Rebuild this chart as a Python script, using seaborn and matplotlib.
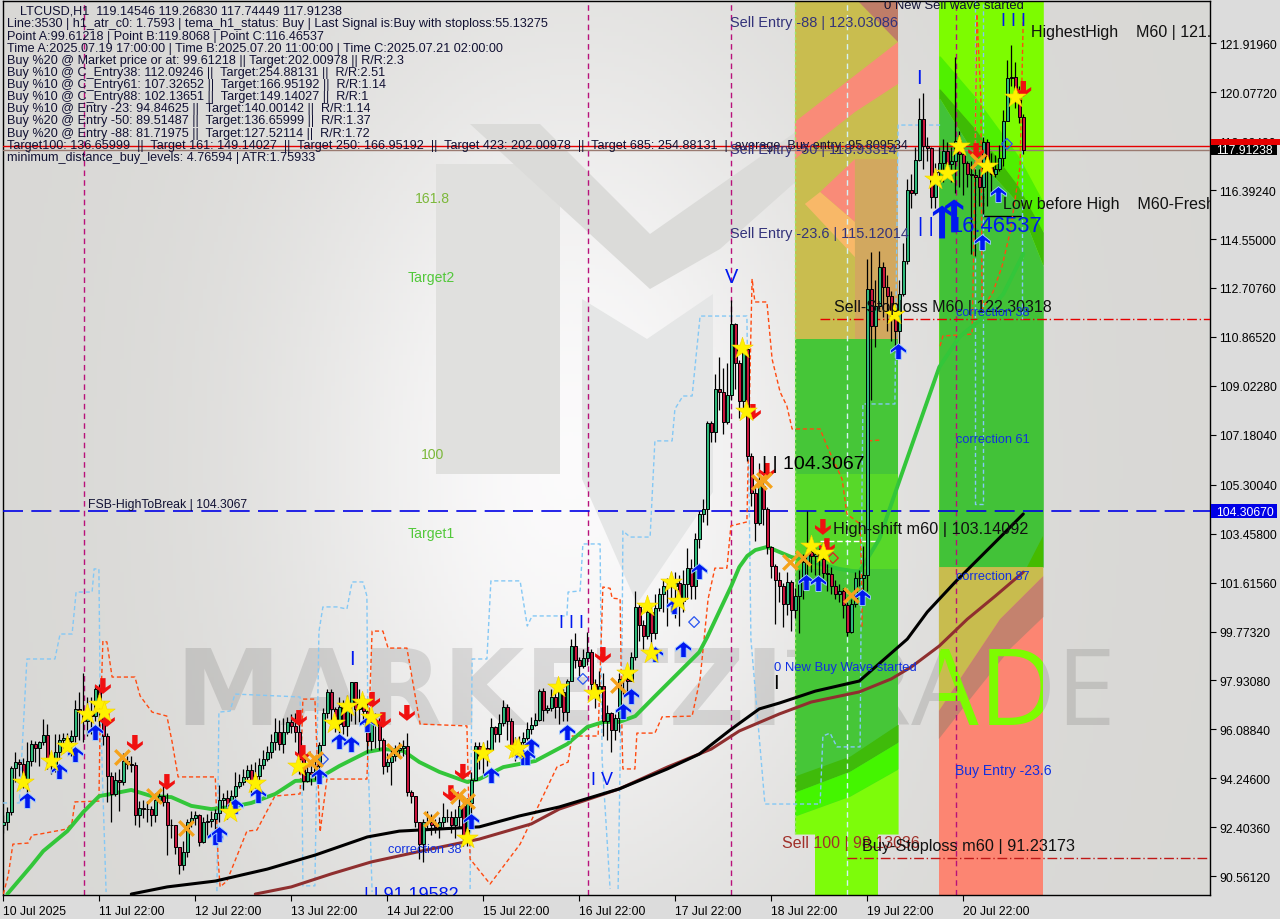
import numpy as np
import matplotlib
matplotlib.use("Agg")
import matplotlib.pyplot as plt
from matplotlib.path import Path
from matplotlib.patches import Polygon, Rectangle
from matplotlib.transforms import Affine2D, blended_transform_factory
import seaborn as sns

close = [
 92.6,92.97,94.64,94.85,94.77,94.2,94.9,95.54,95.4,95.6,
 95.88,94.98,94.7,95.25,95.7,95.75,95.65,95.85,96.86,96.76,
 96.4,96.75,96.6,97.6,96.9,95.85,94.35,93.67,94.2,94.1,
 94.9,94.8,94.75,92.88,93.12,93.1,93.1,92.88,93.45,93.6,
 93.35,92.5,92.5,91.67,90.98,91.46,92.6,92.75,92.85,91.85,
 92.6,92.65,92.72,92.95,93.45,93.5,93.2,93.6,93.95,94.1,
 94.3,94.55,94.2,94.35,94.75,94.98,95.25,95.6,96.0,95.55,
 96.0,96.35,96.2,95.98,94.98,94.15,94.5,94.4,94.7,95.5,
 96.7,97.49,96.86,96.3,96.95,96.23,97.1,97.87,96.86,97.1,
 96.8,95.65,96.35,96.3,95.7,94.72,94.88,95.1,95.3,95.4,
 95.45,93.72,93.57,92.6,91.77,92.6,92.6,92.5,92.4,92.6,
 92.8,92.8,92.5,92.78,93.2,92.0,93.3,94.2,95.45,95.1,
 95.4,95.3,96.17,95.92,96.32,96.92,96.4,95.5,95.2,95.6,
 95.75,96.1,96.27,96.45,97.52,96.82,96.9,97.3,96.95,97.5,
 96.76,97.9,99.22,98.72,98.47,98.78,99.0,97.8,97.5,97.72,
 96.42,96.71,96.05,96.5,97.99,98.0,97.9,98.8,100.69,100.02,
 99.6,100.5,99.7,100.65,101.2,101.47,101.5,101.5,101.6,100.94,
 101.57,102.15,101.5,103.25,104.2,104.4,107.62,107.27,108.9,108.78,
 107.67,108.68,111.35,109.87,108.46,110.4,106.4,105.0,103.85,105.25,
 104.4,102.94,102.25,101.73,101.5,100.8,101.65,100.6,101.1,101.7,
 102.4,102.75,102.6,102.7,102.5,101.97,101.95,101.5,101.2,101.3,
 100.77,99.75,100.8,101.8,101.8,101.9,112.67,111.29,112.04,113.48,
 112.73,112.42,111.55,111.1,112.48,113.74,116.41,116.28,117.52,119.07,
 118.07,117.97,116.12,117.06,117.41,117.88,117.38,117.5,118.25,117.75,
 117.4,117.0,116.95,116.9,116.5,118.2,117.25,117.0,117.2,117.6,
 119.0,120.6,120.64,119.8,119.13,117.91]
high = [
 92.85,93.15,94.7,95.23,94.98,95.0,95.6,95.7,95.66,95.67,
 96.48,96.3,95.1,95.9,95.9,95.95,95.95,96.05,97.2,97.5,
 98.2,97.3,97.3,97.75,97.8,97.0,95.95,94.5,94.5,94.6,
 95.2,95.1,95.1,94.85,93.4,93.45,93.4,93.2,93.7,93.8,
 94.0,93.7,92.7,92.5,91.3,91.9,92.7,93.0,93.0,92.9,
 92.8,92.9,93.0,93.1,94.0,93.7,93.8,93.8,94.5,94.4,
 94.6,94.75,94.8,94.85,95.0,95.3,95.45,95.9,96.5,96.45,
 96.5,96.55,96.65,96.7,96.7,95.1,94.8,94.7,95.0,95.6,
 96.9,97.6,97.6,96.95,97.3,97.2,97.4,97.87,97.87,97.6,
 97.4,97.2,96.6,96.7,96.5,95.75,95.2,95.35,95.5,95.6,
 95.7,95.95,93.8,93.6,92.6,92.7,93.0,92.9,92.7,92.8,
 93.3,93.1,93.0,93.1,93.5,93.5,93.5,94.5,95.6,95.6,
 95.6,95.7,96.5,96.2,96.65,97.2,97.05,96.5,95.8,95.85,
 96.0,96.35,96.55,96.7,97.6,97.65,97.0,97.6,97.5,97.9,
 97.6,98.0,99.5,99.7,98.8,99.1,99.75,99.1,98.0,98.3,
 98.2,97.0,96.75,96.65,98.2,98.2,98.3,99.0,101.3,100.8,
 100.2,100.9,100.7,101.2,101.4,101.7,101.8,102.0,102.0,101.9,
 102.1,102.9,102.5,103.5,104.3,104.75,107.7,107.7,109.45,110.1,
 109.7,109.9,112.25,111.4,110.0,110.6,110.2,106.5,105.2,106.1,
 105.5,104.45,103.0,102.3,102.0,101.6,102.0,101.7,101.4,102.1,
 102.7,104.3,103.0,103.0,102.9,102.8,102.3,102.2,101.7,101.55,
 101.4,100.9,101.0,102.0,102.1,103.0,113.8,114.05,113.0,114.1,
 113.7,113.2,112.6,112.0,113.0,114.4,116.8,117.0,118.0,119.85,
 120.05,118.4,118.0,117.4,118.0,118.3,118.2,118.0,121.4,118.6,
 118.0,117.5,117.5,117.2,117.2,118.4,118.3,117.8,117.7,118.1,
 119.4,121.3,121.85,121.2,120.3,119.27]
low = [
 92.2,92.3,92.85,94.1,94.35,93.9,93.6,94.7,94.85,94.7,
 95.5,94.6,94.4,94.5,95.0,95.2,95.3,95.1,95.6,95.7,
 95.6,95.85,95.9,96.4,96.2,95.5,93.35,92.6,93.6,93.0,
 94.0,94.6,94.5,92.5,92.4,92.75,92.6,92.45,92.6,93.4,
 93.2,91.35,92.0,91.4,90.65,90.8,91.3,92.4,92.5,91.7,
 91.8,92.0,92.4,92.2,92.6,93.0,92.7,93.3,93.3,93.9,
 94.0,94.2,93.7,93.9,94.0,94.6,94.9,95.0,95.3,95.3,
 95.2,95.9,95.95,95.6,94.4,93.8,94.1,94.0,94.2,94.4,
 95.5,96.5,96.3,96.0,95.9,95.9,95.85,96.4,96.3,96.35,
 96.3,95.2,95.3,95.4,95.3,94.4,94.5,94.0,94.9,95.1,
 95.1,93.6,93.3,92.4,91.2,91.1,92.3,92.1,92.2,92.0,
 92.4,92.6,92.2,92.0,92.4,91.7,91.7,92.9,94.4,94.6,
 94.4,94.7,95.3,95.6,95.6,96.2,95.7,95.3,94.9,95.0,
 95.4,95.7,95.9,96.2,96.4,96.4,96.7,96.8,96.5,96.3,
 96.4,96.4,97.9,98.4,98.1,98.4,98.5,97.3,96.9,97.2,
 95.85,95.7,95.25,95.7,96.0,97.4,97.4,97.9,98.7,99.4,
 99.1,99.5,99.2,99.5,100.55,100.5,100.0,100.5,100.3,100.0,
 100.5,101.0,101.0,100.99,102.9,103.9,103.8,106.9,106.9,108.1,
 107.2,107.6,108.5,108.9,107.8,108.0,106.2,104.5,103.2,103.8,
 103.8,102.7,101.8,100.05,100.9,99.95,100.4,99.8,100.3,99.7,
 101.0,101.9,102.0,101.9,101.9,101.8,101.3,101.2,101.0,100.9,
 100.3,99.6,99.7,100.7,101.5,101.3,101.3,108.5,110.5,111.9,
 111.6,111.1,110.7,110.3,110.6,112.4,113.6,115.7,116.2,117.5,
 117.2,117.5,115.7,115.7,116.6,116.7,116.9,116.7,116.3,116.5,
 116.2,116.5,114.0,113.9,115.8,115.5,115.8,116.2,116.9,117.1,
 117.3,119.0,120.3,119.5,118.9,117.74]
first_open = 92.5

ma_green_bar = [1,7,10,16,20,24,27,32,37,42,47,52,57,62,68,73,78,84,91,95,100,104,109,116,119,125,133,141,146,150,154,158,163,168,174,176,182,184,186,188,191,197,204,209,214,219,224,229,234,239,245,250,255]
ma_green_val = [89.89,90.95,91.51,92.26,92.98,93.58,93.66,93.81,93.58,93.54,93.21,93.09,93.17,93.32,93.66,94.15,94.18,94.71,95.24,95.35,95.28,94.86,94.49,94.11,94.22,94.67,94.9,95.54,96.18,96.37,96.37,96.59,97.35,98.1,99.0,99.57,101.49,102.2,102.62,102.84,102.96,102.58,102.32,102.13,102.01,103.26,105.44,107.59,109.73,110.86,111.61,112.48,113.99]
ma_black_bar = [32,41,53,66,78,91,99,109,119,129,139,154,166,174,182,189,194,203,214,226,231,238,248,255]
ma_black_val = [89.89,90.16,90.38,90.83,91.36,92.04,92.26,92.34,92.42,92.83,93.17,93.85,94.6,95.16,96.1,96.86,97.08,97.53,97.91,99.49,100.51,101.64,103.14,104.2]
ma_brown_bar = [63,72,82,92,107,119,132,139,154,166,177,184,194,202,214,222,227,234,241,248,255]
ma_brown_val = [89.89,90.16,90.65,91.1,91.59,91.96,92.53,93.09,93.85,94.67,95.35,96.03,96.67,97.12,97.5,97.99,98.44,99.23,100.24,101.11,102.01]

blue_a_bar = [-0.1,4,5.9,12.9,14.2,17.2,18.2,22.2,22.7,23.9,24.2,24.9,25.7]
blue_a_val = [93.32,93.32,98.74,98.74,99.68,99.68,101.26,101.26,102.13,102.13,97.5,93.73,89.97]
blue_b_bar = [53.4,53.9,56.7,57.9,74.2,74.7,74.9,77.9,78.4,78.9,79.9,83.4,85.9,87.2,89.9,90.9,91.2,92.2]
blue_b_val = [90.0,96.74,96.78,97.42,97.31,93.73,90.2,90.2,94.97,99.76,100.7,100.7,100.62,101.64,101.64,101.11,94.97,89.97]
blue_c_bar = [116.7,117.2,120.9,121.9,129.2,131,132.2,140.9,141.2,144.2,144.9,149.2,149.7,151.7]
blue_c_val = [90.08,98.74,98.74,101.68,101.68,99.98,100.36,100.36,101.26,101.3,103.07,103.07,94.97,90.08]
blue_d_bar = [153.7,154.7,154.9,156.7,161.7,162.9,167.2,167.9,169.9,172.2,174.2,185.9,186.2,186.9,190.4,204.2,204.9,206.7,208.4,214.2,214.7,214.9,222.9,223.7,234.2]
blue_d_val = [90.08,99.49,103.56,103.33,103.33,106.95,106.95,108.15,108.64,108.64,111.65,111.65,108.04,99.49,93.28,93.28,95.84,95.95,95.43,95.43,105.51,108.34,108.34,118.84,118.84]
blue_e_bar = [242.9,242.9,244.9,244.9]
blue_e_val = [123.5,104.57,104.57,123.5]
blue_f_bar = [254.7,254.7]
blue_f_val = [117.9,111.54]

orange_a_bar = [0,1.2,2.4,6.2,7.2,9.2,15.9,17.2,17.9,23.9,24.2,24.9,25.9,27.2,32.9,34.2,37.2,40.9,42.2,43.7,53,53.7,54.2,55.9,60.9,63.4,67.9,74.2,74.9,77.9,79.2,80.9,90.9,92.2,94.9,96.2,100.9,104.2,115.9,116.7,121.7,129.2,138.4,141.2,142.2,148.7,149.9,151.7,152.2,154.2,154.7,154.9,157.9,158.4,162.9,164.7,172.2,174.2,176.2,177.9,180.9,181.9,185.9,186.9,187.2,187.9,190.9,192.2,194.2,195.9,197.2,204.2,205.9,209.7,210.9,214.2,214.7,214.7]
orange_a_val = [89.89,90.57,91.77,91.81,92.11,92.15,92.34,92.6,93.36,93.39,96.22,99.42,99.38,98.06,98.06,97.35,96.74,96.59,95.62,94.3,94.3,91.21,90.16,90.38,92.26,92.3,93.58,93.66,97.23,97.23,92.23,94.22,94.22,99.79,99.79,99.15,99.15,96.29,96.22,91.21,90.27,91.77,94.67,94.86,95.84,95.84,101.45,101.4,101.03,101.0,95.73,94.6,94.6,95.95,95.95,96.56,96.59,97.99,101.0,102.16,102.16,103.75,103.9,111.05,113.05,112.18,112.18,110.03,108.79,108.26,107.4,107.4,106.76,105.51,104.2,103.82,101.0,99.87]
orange_b_bar = [216.2,219.2]
orange_b_val = [106.95,106.98]
orange_c_bar = [234.2,234.9,242.2,242.7,243.4,244.4,244.7,247.4,249.7,251.7,254.2,255]
orange_c_val = [110.52,110.9,110.97,114.93,123.02,119.82,111.91,112.55,113.53,114.81,117.3,122.94]

star_bar = [4.9,11.9,15.9,20.9,23.9,25.2,56.7,62.9,73.7,82.7,85.9,89.7,91.9,115.9,119.9,127.9,128.7,138.7,147.7,155.9,160.9,166.9,168.7,161.9,184.7,185.7,201.9,204.9,222.7,232.9,235.9,238.9,245.9,252.9]
star_val = [94.11,94.9,95.46,96.67,97.05,96.74,92.98,94.07,94.71,96.33,96.97,97.12,96.56,91.99,95.2,95.35,95.39,97.69,97.46,98.21,100.73,101.64,100.92,98.96,110.45,108.07,102.99,102.73,111.73,116.81,117.03,118.05,117.3,119.89]
cross_bar = [29.7,37.7,45.7,76.7,77.9,97.7,106.9,113.7,115.9,153.7,188.9,190.2,196.7,199.9,211.9,243.7]
cross_val = [95.05,93.58,92.38,94.86,94.97,95.28,92.72,93.58,93.39,97.76,105.4,105.48,102.39,102.54,101.15,117.5]
up_bar = [5.9,13.9,17.9,22.9,52.9,53.9,57.9,63.7,78.9,83.9,86.9,90.9,116.9,121.9,131.9,129.9,130.9,140.9,154.9,156.9,162.9,167.7,169.9,173.9,200.7,203.7,214.7,223.7,244.7,248.7]
up_val = [93.43,94.52,95.16,95.99,92.04,92.15,93.21,93.62,94.33,95.65,95.54,96.29,92.64,94.37,95.46,95.05,95.05,95.99,96.78,97.35,98.93,100.73,99.11,102.05,101.64,101.6,101.07,110.33,114.44,116.24]
big_up_bar = [234.7,237.7]
big_up_val = [115.19,115.42]
down_bar = [24.9,25.9,32.9,40.9,73.9,74.9,92.2,94.9,100.9,111.9,114.9,149.9,187.4,190.9,204.9,205.9,243.2,255]
down_val = [97.72,96.48,95.58,94.11,96.52,95.2,97.2,96.44,96.71,93.69,94.49,98.89,108.04,105.82,103.71,102.99,117.86,120.2]
hollow_bar = [79.9,144.9,172.7,250.9]
hollow_val = [94.97,97.99,100.13,118.13]
hollow_red_bar = [207.4]
hollow_red_val = [102.54]

vline_bars = [20.2,146.2,182,238.1]
level_break = 104.3067
level_last = 117.91238
level_ask = 118.05
level_sell_stop = 111.54
level_buy_stop = 91.24
level_shift = 103.18
level_low = 115.43
bar_sell_stop = 204.2
bar_buy_stop = 211
bar_shift = (204.2,218.7)
bar_low = (245,254.7)

ytick_vals = [90.5612,92.4036,94.246,96.0884,97.9308,99.7732,101.6156,103.458,105.3004,107.1804,109.0228,110.8652,112.7076,114.55,116.3924,118.2348,120.0772,121.9196]
ytick_text = ["90.56120","92.40360","94.24600","96.08840","97.93080","99.77320","101.61560","103.45800","105.30040","107.18040","109.02280","110.86520","112.70760","114.55000","116.39240","118.23480","120.07720","121.91960"]
xtick_bars = [0,24,48,72,96,120,144,168,192,216,240]
xtick_text = ["10 Jul 2025","11 Jul 22:00","12 Jul 22:00","13 Jul 22:00","14 Jul 22:00","15 Jul 22:00","16 Jul 22:00","17 Jul 22:00","18 Jul 22:00","19 Jul 22:00","20 Jul 22:00"]

panel_lines = [
 "Line:3530 | h1_atr_c0: 1.7593 | tema_h1_status: Buy | Last Signal is:Buy with stoploss:55.13275",
 "Point A:99.61218 | Point B:119.8068 | Point C:116.46537",
 "Time A:2025.07.19 17:00:00 | Time B:2025.07.20 11:00:00 | Time C:2025.07.21 02:00:00",
 "Buy %20 @ Market price or at: 99.61218 || Target:202.00978 || R/R:2.3",
 "Buy %10 @ C_Entry38: 112.09246 ||  Target:254.88131 ||  R/R:2.51",
 "Buy %10 @ C_Entry61: 107.32652 ||  Target:166.95192 ||  R/R:1.14",
 "Buy %10 @ C_Entry88: 102.13651 ||  Target:149.14027 ||  R/R:1",
 "Buy %10 @ Entry -23: 94.84625 ||  Target:140.00142 ||  R/R:1.14",
 "Buy %20 @ Entry -50: 89.51487 ||  Target:136.65999 ||  R/R:1.37",
 "Buy %20 @ Entry -88: 81.71975 ||  Target:127.52114 ||  R/R:1.72",
 "Target100: 136.65999  ||  Target 161: 149.14027  ||  Target 250: 166.95192  ||  Target 423: 202.00978  ||  Target 685: 254.88131  |  average  Buy entry: 95.809534",
 "minimum_distance_buy_levels: 4.76594 | ATR:1.75933",
]

sns.set_theme(style="white")
plt.rcParams["font.family"] = ["Liberation Sans", "DejaVu Sans"]
plt.rcParams["axes.unicode_minus"] = False

fig = plt.figure(figsize=(12.8, 9.2), dpi=100, facecolor="#dcdcdc")
ax = fig.add_axes([3/1280, 1-896/920, 1206.5/1280, 894/920])
xlim = (-0.075, 301.55)
ylim = (89.855, 123.51)
pxT = Affine2D().scale(1/1280, -1/920).translate(0, 1) + fig.transFigure

# background gradient
gx, gy = np.meshgrid(np.linspace(0, 1, 320), np.linspace(0, 1, 230))
glow = np.exp(-(((gx-0.47)/0.24)**2 + ((gy-0.52)/0.50)**2))
shade = 0.85 + 0.135*glow
rgb = np.dstack([shade, shade*0.997, shade*0.985 + 0.015*glow])
ax.imshow(np.clip(rgb, 0, 1), extent=(*xlim, *ylim), aspect="auto", zorder=0, origin="upper")

# logo
logo = [([(436,165),(560,165),(560,475),(436,475)], "#e0e0de"),
        ([(582,300),(647,340),(713,295),(713,493),(637,605),(582,480)], "#e5e6e6"),
        ([(470,125),(540,125),(650,235),(800,130),(900,55),(900,90),(720,250),(650,290)], "#dbdbd9")]
for pts, c in logo:
    ax.add_patch(Polygon(pts, closed=True, fc=c, ec="none", transform=pxT, zorder=0.5))
ax.text(175, 725, "MARKETZI", transform=pxT, fontsize=76, fontweight="bold", family="DejaVu Sans", color="black", alpha=0.11, va="baseline", ha="left", zorder=0.6, clip_on=True)
ax.text(786, 725, "TRADE", transform=pxT, fontsize=77, family="Open Sans", color="black", alpha=0.11, va="baseline", ha="left", zorder=0.6, clip_on=True)

# zone 1: upper part
z1a, z1b = 197.9, 223.7
ax.fill_between([z1a, z1b], 110.79, 123.6, color="#c9bd4f", lw=0, zorder=1)
ax.fill_between([212.9, z1b], 110.79, 117.56, color="#d2a85f", lw=0, zorder=1.1)
ax.add_patch(Polygon([(z1a,118.96),(z1b,121.97),(z1b,120.39),(212.9,119.33),(z1a,117.56)], fc="#f98b78", ec="none", zorder=1.2))
ax.add_patch(Polygon([(213.2,123.6),(z1b,123.6),(z1b,121.97)], fc="#bf7d68", ec="none", zorder=1.2))
ax.add_patch(Polygon([(204.2,116.32),(212.9,117.56),(212.9,115.19)], fc="#f98b78", ec="none", zorder=1.2))
ax.add_patch(Polygon([(200.4,115.87),(204.2,116.32),(212.9,115.19),(212.9,113.87)], fc="#f8b868", ec="none", zorder=1.2))
# zone 1: green part
ax.fill_between([z1a, z1b], 92.15, 110.79, color="#46c638", lw=0, zorder=1)
ax.fill_between([z1a, z1b], 102.13, 105.7, color="#57d829", lw=0, zorder=1.1)
z1x = [z1a, 211.7, z1b]
ax.fill_between(z1x, [93.73,94.52,95.61], [94.34,95.09,96.29], color="#3fbb0a", lw=0, zorder=1.2)
ax.fill_between(z1x, [92.83,93.58,94.6], [93.73,94.52,95.61], color="#44f500", lw=0, zorder=1.2)
ax.fill_between(z1x, [92.15,92.15,92.15], [92.83,93.58,94.6], color="#7dfc0a", lw=0, zorder=1.2)
ax.fill_between([203, 218.7], 89.8, 92.15, color="#7dfc0a", lw=0, zorder=1.2)

# zone 2
z2a, z2b = 233.9, 260
ax.fill_between([z2a, z2b], 102.2, 123.6, color="#7dfc00", lw=0, zorder=1)
z2x = [234.2, 243, 253.7, 260]
bA = [121.44,119.9,117.7,115.94]
bB = [120.2,118.69,116.55,114.81]
bC = [119.82,117.67,115.9,113.53]
ax.fill_between([z2a]+z2x, [bA[0]]+bA, 123.6, color="#7dfc00", lw=0, zorder=1.1)
ax.fill_between([z2a]+z2x, [bB[0]]+bB, [bA[0]]+bA, color="#50f000", lw=0, zorder=1.1)
ax.fill_between([z2a]+z2x, [bC[0]]+bC, [bB[0]]+bB, color="#3ebb05", lw=0, zorder=1.1)
ax.fill_between([z2a]+z2x, 102.2, [bC[0]]+bC, color="#42c238", lw=0, zorder=1.1)
ax.add_patch(Polygon([(z2b,103.37),(z2b,102.2),(256,102.2)], fc="#45bb00", ec="none", zorder=1.2))
ax.fill_between([z2a, z2b], 89.8, 102.2, color="#fc8572", lw=0, zorder=1)
ax.add_patch(Polygon([(z2a,102.2),(z2b,102.2),(z2b,101.86),(249.2,100.24),(239.2,97.99),(z2a,96.78)], fc="#c8bc4e", ec="none", zorder=1.1))
ax.add_patch(Polygon([(z2a,96.78),(239.2,97.99),(249.2,100.24),(z2b,101.86),(z2b,100.32),(251.7,99.12),(241.7,97.23),(z2a,95.73)], fc="#c4826e", ec="none", zorder=1.1))

# lime letters on zone 2
lime = ax.text(786, 725, "TRADE", transform=pxT, fontsize=77, family="Open Sans", color="#7dfc00", va="baseline", ha="left", zorder=1.5, clip_on=True)
lime.set_clip_path(Rectangle((z2a, 96.0), z2b-z2a, 6.2, transform=ax.transData))

# vertical guides
ax.vlines(vline_bars, *ylim, color="#b8107a", lw=1.0, linestyle=(0, (4, 3)), zorder=2)
ax.vlines([z1a], 92.15, 123.6, color="#9be86a", lw=1.0, linestyle=(0, (2, 2)), zorder=2)
ax.vlines([211], *ylim, color="#d5f2f5", lw=1.0, linestyle=(0, (4, 3)), zorder=2)

# horizontal levels
ax.axhline(level_break, color="#0000e6", lw=1.2, linestyle=(0, (12, 5)), zorder=3)
ax.axhline(level_ask, color="#e60000", lw=1.0, zorder=3)
ax.axhline(level_last, color="#9a7a70", lw=1.0, zorder=3)
ax.hlines(level_sell_stop, bar_sell_stop, xlim[1], color="#e60000", lw=1.0, linestyle=(0, (7, 2, 1, 2)), zorder=3)
ax.hlines(level_buy_stop, bar_buy_stop, xlim[1], color="#c01818", lw=1.0, linestyle=(0, (7, 2, 1, 2)), zorder=3)
ax.hlines(level_shift, *bar_shift, color="white", lw=1.0, linestyle=(0, (4, 2)), zorder=3)
ax.hlines(level_low, *bar_low, color="black", lw=1.0, zorder=3)
ax.vlines([bar_low[0]], level_low, 116.3, color="black", lw=1.0, zorder=3)

def draw_line(xs, ys, **kw):
    sns.lineplot(x=xs, y=ys, ax=ax, estimator=None, sort=False, legend=False, **kw)

dash = (0, (3, 2))
for xs, ys in [(blue_a_bar, blue_a_val), (blue_b_bar, blue_b_val), (blue_c_bar, blue_c_val), (blue_d_bar, blue_d_val), (blue_e_bar, blue_e_val), (blue_f_bar, blue_f_val)]:
    draw_line(xs, ys, color="#84c8f5", linewidth=1.0, linestyle=dash, zorder=3)
for xs, ys in [(orange_a_bar, orange_a_val), (orange_b_bar, orange_b_val), (orange_c_bar, orange_c_val)]:
    draw_line(xs, ys, color="#ff4a10", linewidth=1.0, linestyle=dash, zorder=3)

draw_line(ma_brown_bar, ma_brown_val, color="#8f2f2f", linewidth=2.2, zorder=4)
draw_line(ma_black_bar, ma_black_val, color="black", linewidth=2.2, zorder=4.1)
draw_line(ma_green_bar, ma_green_val, color="#33c63a", linewidth=2.8, zorder=4.2)

# candles
o = np.array([first_open] + close[:-1], dtype=float)
c = np.array(close, dtype=float)
bars = np.arange(len(c))
ax.vlines(bars, low, high, color="black", lw=0.9, zorder=5)
up = c >= o
ax.bar(bars[up], (c-o)[up], bottom=o[up], width=0.68, color="#2fb87a", edgecolor="black", linewidth=0.7, zorder=5.1)
ax.bar(bars[~up], (o-c)[~up], bottom=c[~up], width=0.68, color="#c8143c", edgecolor="black", linewidth=0.7, zorder=5.1)

# arrow markers
up_path = Path([(-.17,-.5),(.17,-.5),(.17,.1),(.5,-.12),(.5,.1),(0,.5),(-.5,.1),(-.5,-.12),(-.17,.1),(-.17,-.5)], closed=False)
down_path = Path([(-.17,.5),(.17,.5),(.17,-.1),(.5,.12),(.5,-.1),(0,-.5),(-.5,-.1),(-.5,.12),(-.17,-.1),(-.17,.5)], closed=False)
big_path = Path([(-.09,-.5),(.09,-.5),(.09,.3),(.28,.18),(.28,.3),(0,.5),(-.28,.3),(-.28,.18),(-.09,.3),(-.09,-.5)], closed=False)
sns.scatterplot(x=up_bar, y=up_val, ax=ax, marker=up_path, s=130, color="#0018f0", edgecolor="#a8d4ff", linewidth=0.6, legend=False, zorder=6)
sns.scatterplot(x=big_up_bar, y=big_up_val, ax=ax, marker=big_path, s=560, color="#0018f0", edgecolor="none", legend=False, zorder=6)
sns.scatterplot(x=down_bar, y=down_val, ax=ax, marker=down_path, s=130, color="#f01010", edgecolor="none", legend=False, zorder=6)
sns.scatterplot(x=hollow_bar, y=hollow_val, ax=ax, marker="D", s=30, facecolor="none", edgecolor="#2a55f0", linewidth=0.9, legend=False, zorder=6)
sns.scatterplot(x=hollow_red_bar, y=hollow_red_val, ax=ax, marker="D", s=30, facecolor="none", edgecolor="#e02020", linewidth=0.9, legend=False, zorder=6)
ax.scatter(cross_bar, cross_val, marker="x", s=110, color="#f5a21a", linewidth=2.4, zorder=6.1)
sns.scatterplot(x=star_bar, y=star_val, ax=ax, marker="*", s=265, color="#fff200", edgecolor="#f5d000", linewidth=0.4, legend=False, zorder=6.2)

ax.set_xlim(*xlim)
ax.set_ylim(*ylim)
ax.set_xlabel("")
ax.set_ylabel("")
ax.yaxis.tick_right()
ax.set_yticks(ytick_vals, ytick_text)
ax.set_xticks(xtick_bars, xtick_text, ha="left")
ax.tick_params(axis="y", which="major", length=4, width=0.8, color="black", labelsize=8.7, labelcolor="black", pad=3, right=True, left=False)
ax.tick_params(axis="x", which="major", length=4, width=0.8, color="black", labelsize=8.7, labelcolor="black", pad=3, bottom=True)
for s in ax.spines.values():
    s.set_visible(True)
    s.set_color("black")
    s.set_linewidth(1.0)

# price tags on the right
tagT = blended_transform_factory(pxT, ax.transData)
ax.add_patch(Rectangle((1211, 117.73), 66, 0.37, fc="black", ec="none", transform=tagT, clip_on=False, zorder=8))
ax.add_patch(Rectangle((1211, 118.1), 69, 0.21, fc="#e60000", ec="none", transform=tagT, clip_on=False, zorder=8.5))
ax.add_patch(Rectangle((1211, 104.06), 66, 0.5, fc="#0000e6", ec="none", transform=tagT, clip_on=False, zorder=8))
ax.text(1216, level_last-0.03, "117.91238", transform=tagT, color="white", fontsize=8.7, va="center", ha="left", clip_on=False, zorder=9)
ax.text(1216, level_break-0.03, "104.30670", transform=tagT, color="white", fontsize=8.7, va="center", ha="left", clip_on=False, zorder=9)

def T(x, y, s, px=12, color="black", **kw):
    kw.setdefault("va", "center")
    kw.setdefault("ha", "left")
    return ax.text(x, y, s, transform=pxT, fontsize=px*0.72, color=color, zorder=10, clip_on=True, **kw)

T(20, 12, "LTCUSD,H1  119.14546 119.26830 117.74449 117.91238", 12.6, "#111133")
for i, line in enumerate(panel_lines):
    T(7, 24.5 + i*12.12, line, 12.6, "#111133")

T(730, 23, "Sell Entry -88 | 123.03086", 14.5, "#33337a")
T(730, 150, "Sell Entry -50 | 118.93314", 14.5, "#33337a")
T(730, 234, "Sell Entry -23.6 | 115.12014", 14.5, "#33337a")
T(834, 308, "Sell-Stoploss M60 | 122.30318", 16, "#111111")
T(833, 530, "High-shift m60 | 103.14092", 16.3, "#111111")
T(762, 465, "| | 104.3067", 19.5, "black")
T(88, 505, "FSB-HighToBreak | 104.3067", 12.3, "#111133")
T(884, 6, "0 New Sell wave started", 13, "#111133")
T(1031, 33, "HighestHigh    M60 | 121.", 16, "#111111")
T(1003, 204, "Low before High    M60-Fresh", 16, "#111111")
T(774, 668, "0 New Buy Wave started", 13, "#1030e0")
T(388, 850, "correction 38", 12.8, "#1030e0")
T(956, 313, "correction 38", 12.8, "#1030e0")
T(956, 440, "correction 61", 12.8, "#1030e0")
T(956, 577, "correction 87", 12.8, "#1030e0")
T(955, 771, "Buy Entry -23.6", 14, "#1030e0")
T(782, 844, "Sell 100 | 98.13036", 16, "#a0302a")
T(862, 847, "Buy-Stoploss m60 | 91.23173", 16.2, "#111111")
green_txt = "#52c83a"
T(415, 199, "161.8", 14, "#7cb83a")
T(408, 278, "Target2", 14, green_txt)
T(421, 455, "100", 14, "#7cb83a")
T(408, 534, "Target1", 14, green_txt)
T(916, 78, "I", 20, "#0018f0")
T(1001, 21, "I I I", 18, "#0018f0")
T(725, 278, "V", 20, "#0018f0")
T(559, 624, "I I I", 18, "#0018f0")
T(349, 660, "I", 20, "#0018f0")
T(591, 781, "I V", 18, "#0018f0")
T(773, 684, "I", 20, "black")
T(364, 896, "| | 91.19582", 18, "#0018f0")
T(918, 226, "| |", 20, "#0018f0")
T(950, 226, "16.46537", 22, "#0018f0")

fig.savefig("out.png", dpi=100, facecolor=fig.get_facecolor())
